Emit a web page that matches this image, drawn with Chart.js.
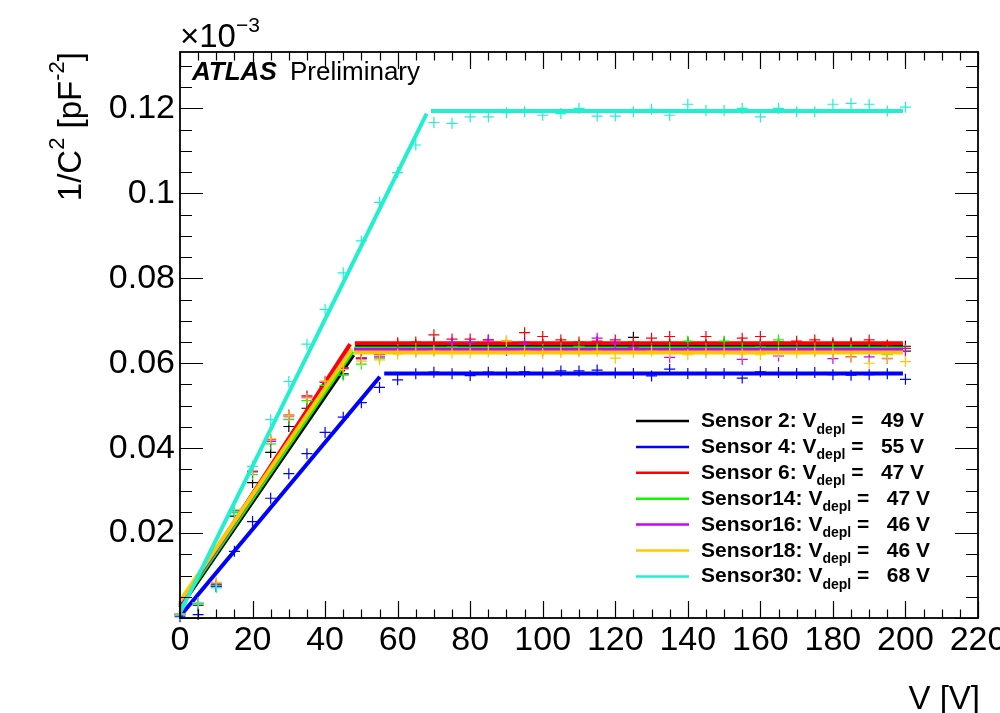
<!DOCTYPE html>
<html>
<head>
<meta charset="utf-8">
<title>1/C^2 vs V</title>
<script src="https://cdn.jsdelivr.net/npm/chart.js@4.4.1/dist/chart.umd.min.js"></script>
<style>
  html, body { margin: 0; padding: 0; background: #fff; }
  #wrap { width: 1000px; height: 713px; position: relative; }
</style>
</head>
<body>
<div id="wrap"><canvas id="cv" width="1000" height="713"></canvas></div>
<script>
// ---------- Data (1/C^2 in units of 1e-3 pF^-2) ----------
const voltage = [0, 5, 10, 15, 20, 25, 30, 35, 40, 45, 50, 55, 60, 65, 70, 75, 80, 85, 90, 95, 100,
  105, 110, 115, 120, 125, 130, 135, 140, 145, 150, 155, 160, 165, 170, 175, 180, 185, 190, 195, 200];

const sensor2 = [0.0008, 0.0030, 0.0075, 0.0240, 0.0319, 0.0390, 0.0451, 0.0494, 0.0545, 0.0575, 0.0612, 0.0622,
  0.0645, 0.0643, 0.0648, 0.0646, 0.0644, 0.0647, 0.0645, 0.0649, 0.0644, 0.0646, 0.0643, 0.0645, 0.0642,
  0.0661, 0.0646, 0.0644, 0.0647, 0.0643, 0.0645, 0.0648, 0.0644, 0.0646, 0.0643, 0.0645, 0.0644, 0.0646, 0.0643, 0.0641, 0.0640];
const sensor4 = [0.0003, 0.0008, 0.0074, 0.0157, 0.0227, 0.0282, 0.0340, 0.0387, 0.0437, 0.0473, 0.0507, 0.0543,
  0.0561, 0.0575, 0.0579, 0.0575, 0.0571, 0.0579, 0.0577, 0.0580, 0.0577, 0.0582, 0.0582, 0.0584, 0.0577,
  0.0576, 0.0570, 0.0586, 0.0576, 0.0576, 0.0576, 0.0565, 0.0580, 0.0578, 0.0576, 0.0578, 0.0573, 0.0572, 0.0573, 0.0575, 0.0562];
const sensor6 = [0.0010, 0.0035, 0.0080, 0.0254, 0.0346, 0.0420, 0.0478, 0.0523, 0.0557, 0.0590, 0.0612, 0.0620,
  0.0648, 0.0650, 0.0667, 0.0657, 0.0657, 0.0655, 0.0652, 0.0672, 0.0663, 0.0655, 0.0650, 0.0652, 0.0655,
  0.0650, 0.0659, 0.0663, 0.0650, 0.0663, 0.0650, 0.0659, 0.0663, 0.0650, 0.0652, 0.0655, 0.0648, 0.0648, 0.0655, 0.0643, 0.0635];
const sensor14 = [0.0008, 0.0033, 0.0076, 0.0248, 0.0338, 0.0410, 0.0468, 0.0512, 0.0548, 0.0572, 0.0598, 0.0612,
  0.0632, 0.0635, 0.0630, 0.0638, 0.0636, 0.0634, 0.0637, 0.0635, 0.0633, 0.0636, 0.0640, 0.0634, 0.0633,
  0.0636, 0.0634, 0.0637, 0.0652, 0.0635, 0.0652, 0.0636, 0.0638, 0.0655, 0.0634, 0.0636, 0.0635, 0.0633, 0.0631, 0.0620, 0.0630];
const sensor16 = [0.0008, 0.0035, 0.0079, 0.0252, 0.0344, 0.0416, 0.0474, 0.0520, 0.0555, 0.0588, 0.0610, 0.0615,
  0.0630, 0.0628, 0.0632, 0.0649, 0.0649, 0.0655, 0.0630, 0.0645, 0.0629, 0.0632, 0.0631, 0.0659, 0.0647,
  0.0636, 0.0632, 0.0614, 0.0633, 0.0631, 0.0632, 0.0609, 0.0634, 0.0617, 0.0632, 0.0630, 0.0611, 0.0615, 0.0615, 0.0611, 0.0628];
const sensor18 = [0.0010, 0.0036, 0.0084, 0.0256, 0.0348, 0.0422, 0.0476, 0.0518, 0.0558, 0.0585, 0.0605, 0.0608,
  0.0622, 0.0626, 0.0628, 0.0624, 0.0624, 0.0627, 0.0652, 0.0628, 0.0623, 0.0625, 0.0627, 0.0628, 0.0612,
  0.0625, 0.0628, 0.0624, 0.0620, 0.0625, 0.0626, 0.0622, 0.0620, 0.0625, 0.0624, 0.0626, 0.0623, 0.0614, 0.0600, 0.0612, 0.0604];
const sensor30 = [0.0008, 0.0035, 0.0071, 0.0251, 0.0357, 0.0467, 0.0557, 0.0645, 0.0727, 0.0813, 0.0888, 0.0979,
  0.1049, 0.1114, 0.1167, 0.1165, 0.1180, 0.1180, 0.1190, 0.1192, 0.1184, 0.1188, 0.1200, 0.1182, 0.1182,
  0.1192, 0.1198, 0.1184, 0.1210, 0.1195, 0.1195, 0.1200, 0.1180, 0.1200, 0.1192, 0.1192, 0.1210, 0.1212, 0.1210, 0.1194, 0.1203];

const sensorNames = ["Sensor 2", "Sensor 4", "Sensor 6", "Sensor14", "Sensor16", "Sensor18", "Sensor30"];
const vDepl = [49, 55, 47, 47, 46, 46, 68];
const series = [sensor2, sensor4, sensor6, sensor14, sensor16, sensor18, sensor30];

// two-segment fits: rising line from (0, fitIntercept) to (kneeV, kneeY), plateau from flatFrom to flatTo
const fitIntercept = [0.0025, 0.0004, 0.0030, 0.0030, 0.0035, 0.0040, 0.0012];
const kneeV = [47.8, 55.1, 46.9, 47.6, 47.2, 47.4, 68.0];
const kneeY = [0.0620, 0.0568, 0.0645, 0.0628, 0.0633, 0.0633, 0.1188];
const flatFrom = [48.3, 56.3, 48.2, 48.0, 48.0, 48.0, 69.2];
const flatTo = [199.3, 199.3, 199.3, 199.3, 199.3, 199.3, 199.3];
const plateau = [0.0641, 0.0576, 0.0647, 0.0635, 0.0631, 0.0625, 0.1194];

const xTicks = [0, 20, 40, 60, 80, 100, 120, 140, 160, 180, 200, 220];
const yTicks = [0.02, 0.04, 0.06, 0.08, 0.1, 0.12];

const colors = ["#000000", "#0000ff", "#ff0000", "#00ff00", "#cc00ff", "#ffc800", "#20f0d0"];
const FONT = "'Liberation Sans', Arial, Helvetica, sans-serif";

// ---------- Datasets ----------
const datasets = [];
series.forEach((vals, i) => {
  datasets.push({
    label: sensorNames[i] + " fit",
    data: [
      { x: 0, y: fitIntercept[i] },
      { x: kneeV[i], y: kneeY[i] },
      { x: kneeV[i], y: null },
      { x: flatFrom[i], y: plateau[i] },
      { x: flatTo[i], y: plateau[i] },
    ],
    showLine: true,
    spanGaps: false,
    borderColor: colors[i],
    borderWidth: 4,
    pointRadius: 0,
    order: (6 - i) * 2,
    clip: false,
  });
  datasets.push({
    label: sensorNames[i],
    data: voltage.map((v, k) => ({ x: v, y: vals[k] })),
    showLine: false,
    pointStyle: "cross",
    pointRadius: 5.5,
    pointBorderWidth: 1.2,
    borderColor: colors[i],
    backgroundColor: colors[i],
    order: (6 - i) * 2 + 1,
    clip: false,
  });
});

// ---------- ROOT-style frame with inward ticks ----------
const frameTicks = {
  id: "frameTicks",
  afterDraw(chart) {
    const { ctx, chartArea: a, scales: { x, y } } = chart;
    ctx.save();
    ctx.strokeStyle = "#000";
    ctx.lineWidth = 1.2;
    ctx.beginPath();
    for (let k = 0; k * 5 <= x.max + 1e-9; k++) {
      const px = Math.round(x.getPixelForValue(k * 5)) + 0.5;
      const len = k % 4 === 0 ? 17 : 8.5;
      ctx.moveTo(px, a.bottom); ctx.lineTo(px, a.bottom - len);
      ctx.moveTo(px, a.top); ctx.lineTo(px, a.top + len);
    }
    for (let k = 0; k * 0.005 <= y.max + 1e-12; k++) {
      const py = Math.round(y.getPixelForValue(k * 0.005)) + 0.5;
      const len = k % 4 === 0 ? 23 : 12;
      ctx.moveTo(a.left, py); ctx.lineTo(a.left + len, py);
      ctx.moveTo(a.right, py); ctx.lineTo(a.right - len, py);
    }
    ctx.stroke();
    ctx.lineWidth = 1.8;
    ctx.strokeRect(a.left, a.top, a.right - a.left, a.bottom - a.top);
    ctx.restore();
  },
};

// text made of pieces with super/subscripts
function drawPieces(ctx, pieces, x, y) {
  let cx = x;
  pieces.forEach((p) => {
    ctx.font = p.font;
    ctx.fillText(p.text, cx, y + (p.dy || 0));
    cx += ctx.measureText(p.text).width;
  });
  return cx - x;
}
function piecesWidth(ctx, pieces) {
  let w = 0;
  pieces.forEach((p) => { ctx.font = p.font; w += ctx.measureText(p.text).width; });
  return w;
}

const labels = {
  id: "labels",
  afterDraw(chart) {
    const { ctx, chartArea: a } = chart;
    ctx.save();
    ctx.fillStyle = "#000";
    ctx.textAlign = "left";
    ctx.textBaseline = "alphabetic";

    // y axis title, rotated, ending at the top of the frame
    const big = "33px " + FONT, sup = "22px " + FONT;
    const yTitle = [
      { text: "1/C", font: big }, { text: "2", font: sup, dy: -17 },
      { text: " [pF", font: big }, { text: "-2", font: sup, dy: -17 },
      { text: "]", font: big },
    ];
    ctx.save();
    ctx.translate(81, a.top);
    ctx.rotate(-Math.PI / 2);
    drawPieces(ctx, yTitle, -piecesWidth(ctx, yTitle), 0);
    ctx.restore();

    // exponent
    drawPieces(ctx, [
      { text: "\u00d710", font: big },
      { text: "\u22123", font: "21px " + FONT, dy: -15 },
    ], a.left, 47);

    // x axis title
    ctx.font = big;
    ctx.textAlign = "right";
    ctx.fillText("V [V]", 980, 709);
    ctx.textAlign = "left";

    // ATLAS label
    ctx.font = "italic bold 26px " + FONT;
    ctx.fillText("ATLAS", 192, 80);
    ctx.font = "26px " + FONT;
    ctx.fillText("Preliminary", 290, 80);

    // legend
    const lx0 = 636, lx1 = 689, tx = 701, top = 427, step = 25.9;
    sensorNames.forEach((name, i) => {
      const yb = top + i * step;
      ctx.strokeStyle = colors[i];
      ctx.lineWidth = 2.5;
      ctx.beginPath();
      ctx.moveTo(lx0, yb - 6);
      ctx.lineTo(lx1, yb - 6);
      ctx.stroke();
      drawPieces(ctx, [
        { text: name + ": V", font: "bold 21px " + FONT },
        { text: "depl", font: "bold 14px " + FONT, dy: 6.5 },
        { text: " =   " + vDepl[i] + " V", font: "bold 21px " + FONT },
      ], tx, yb);
    });
    ctx.restore();
  },
};

new Chart(document.getElementById("cv"), {
  type: "scatter",
  data: { datasets },
  options: {
    responsive: false,
    devicePixelRatio: 1,
    animation: false,
    layout: { padding: { top: 52, right: 22, left: 0, bottom: 0 } },
    plugins: { legend: { display: false }, tooltip: { enabled: false } },
    scales: {
      x: {
        type: "linear",
        min: 0,
        max: 220,
        grid: { display: false, drawTicks: false },
        border: { display: false },
        afterBuildTicks: (s) => { s.ticks = xTicks.map((v) => ({ value: v })); },
        afterFit: (s) => { s.height = 95; s.paddingLeft = 0; s.paddingRight = 0; },
        ticks: {
          autoSkip: false,
          maxRotation: 0,
          padding: 2,
          color: "#000",
          font: { family: FONT, size: 34 },
          callback: (v) => String(v),
        },
      },
      y: {
        type: "linear",
        min: 0,
        max: 0.1333,
        grid: { display: false, drawTicks: false },
        border: { display: false },
        afterBuildTicks: (s) => { s.ticks = yTicks.map((v) => ({ value: v })); },
        afterFit: (s) => { s.width = 180; s.paddingTop = 0; s.paddingBottom = 0; },
        ticks: {
          padding: 5,
          color: "#000",
          font: { family: FONT, size: 34 },
          callback: (v) => String(Number(v.toFixed(3))),
        },
      },
    },
  },
  plugins: [frameTicks, labels],
});
</script>
</body>
</html>
